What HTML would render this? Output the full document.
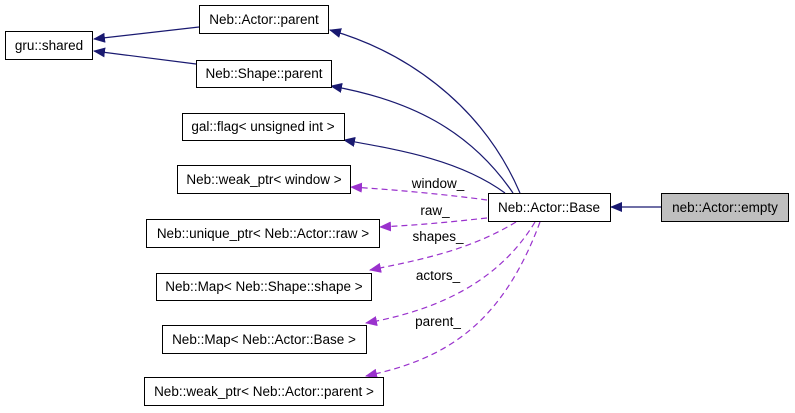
<!DOCTYPE html>
<html><head><meta charset="utf-8"><style>
html,body{margin:0;padding:0;background:#fff;}
svg{display:block;}
text{font-family:"Liberation Sans",sans-serif;font-size:13.5px;fill:#000;}
</style></head><body>
<svg width="795" height="413" viewBox="0 0 795 413" xmlns="http://www.w3.org/2000/svg">
<defs>
<marker id="ab" markerWidth="12" markerHeight="10" refX="11" refY="5" orient="auto" markerUnits="userSpaceOnUse"><path d="M0,0 L12,5 L0,10 z" fill="#191970"/></marker>
<marker id="ap" markerWidth="12" markerHeight="10" refX="11" refY="5" orient="auto" markerUnits="userSpaceOnUse"><path d="M0,0 L12,5 L0,10 z" fill="#9a32cd"/></marker>
</defs>
<g fill="none" stroke="#191970" stroke-width="1.2">
<path d="M199,27 L94,39" marker-end="url(#ab)"/>
<path d="M196,64 L94,51" marker-end="url(#ab)"/>
<path d="M520,193 C480,100 400,50 330,30" marker-end="url(#ab)"/>
<path d="M513,193 C470,130 410,100 331,86" marker-end="url(#ab)"/>
<path d="M505,193 C460,160 400,150 344,140" marker-end="url(#ab)"/>
<path d="M661,207 L611,207" marker-end="url(#ab)"/>
</g>
<g fill="none" stroke="#9a32cd" stroke-width="1.2" stroke-dasharray="6,4">
<path d="M487,200 C450,195 400,190 351,187" marker-end="url(#ap)"/>
<path d="M487,218 C450,222 420,225 380,227" marker-end="url(#ap)"/>
<path d="M516,222 C470,250 420,260 370,270" marker-end="url(#ap)"/>
<path d="M535,222 C500,280 440,310 366,323" marker-end="url(#ap)"/>
<path d="M540,222 C500,330 440,360 366,376" marker-end="url(#ap)"/>
</g>
<g fill="#fff" stroke="#000" stroke-width="1">
<rect x="5.5" y="31.5" width="87" height="28"/>
<rect x="199.5" y="5.5" width="129" height="28"/>
<rect x="196.5" y="60.5" width="135" height="27"/>
<rect x="182.5" y="113.5" width="162" height="27"/>
<rect x="177.5" y="165.5" width="173" height="28"/>
<rect x="488.5" y="193.5" width="122" height="28"/>
<rect x="661.5" y="193.5" width="127" height="28" fill="#bfbfbf"/>
<rect x="146.5" y="219.5" width="233" height="28"/>
<rect x="156.5" y="273.5" width="215" height="27"/>
<rect x="162.5" y="325.5" width="204" height="28"/>
<rect x="144.5" y="377.5" width="239" height="28"/>
</g>
<g text-anchor="middle">
<text x="49" y="50">gru::shared</text>
<text x="264" y="24">Neb::Actor::parent</text>
<text x="264" y="78">Neb::Shape::parent</text>
<text x="263" y="131">gal::flag&lt; unsigned int &gt;</text>
<text x="264" y="184">Neb::weak_ptr&lt; window &gt;</text>
<text x="549" y="212">Neb::Actor::Base</text>
<text x="725" y="212">neb::Actor::empty</text>
<text x="263" y="238">Neb::unique_ptr&lt; Neb::Actor::raw &gt;</text>
<text x="264" y="291">Neb::Map&lt; Neb::Shape::shape &gt;</text>
<text x="264" y="344">Neb::Map&lt; Neb::Actor::Base &gt;</text>
<text x="264" y="396">Neb::weak_ptr&lt; Neb::Actor::parent &gt;</text>
<text x="438" y="188">window_</text>
<text x="435" y="215">raw_</text>
<text x="438" y="241">shapes_</text>
<text x="438" y="280">actors_</text>
<text x="438" y="326">parent_</text>
</g>
</svg>
</body></html>
